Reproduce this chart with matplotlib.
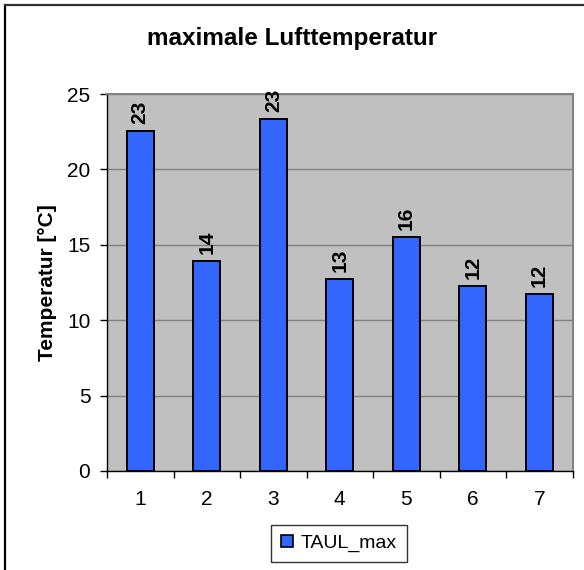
import matplotlib
matplotlib.use("Agg")
import matplotlib.pyplot as plt
from matplotlib.patches import Rectangle
from matplotlib.lines import Line2D

plt.rcParams["font.family"] = ["Liberation Sans", "DejaVu Sans"]

# Tageshöchstwerte der Lufttemperatur
tage = [1, 2, 3, 4, 5, 6, 7]
taul_max = [22.55, 13.9, 23.35, 12.75, 15.5, 12.25, 11.75]
y_ticks = [0, 5, 10, 15, 20, 25]

W, H = 584, 570
fig = plt.figure(figsize=(W / 100, H / 100), dpi=100, facecolor="white")

# Rahmen links und oben wie im Excel-Export
fig.add_artist(Line2D([5 / W, 5 / W], [0, 1 - 5 / H], transform=fig.transFigure,
                      color="black", lw=1.6))
fig.add_artist(Line2D([5 / W, 1], [1 - 5 / H, 1 - 5 / H], transform=fig.transFigure,
                      color="#303030", lw=1.6))

ax = fig.add_axes([107 / W, (H - 471) / H, (572.5 - 107) / W, (471 - 94) / H])
ax.set_facecolor("#C0C0C0")

ax.bar(tage, taul_max, width=0.4, color="#3366FF", edgecolor="black",
       linewidth=1.4, zorder=3, label="TAUL_max")
for x, v in zip(tage, taul_max):
    ax.annotate(f"{v:.0f}", (x, v), xytext=(0, 5), textcoords="offset points",
                rotation=90, ha="center", va="bottom", fontsize=15,
                fontweight="bold", zorder=4)

ax.set_xlim(0.5, 7.5)
ax.set_ylim(0, 25)
ax.set_yticks(y_ticks)
ax.yaxis.grid(True, color="#808080", lw=1)
ax.set_axisbelow(True)

# Kategorien mittig, Striche an den Grenzen
ax.set_xticks(tage)
ax.set_xticks([t + 0.5 for t in [0] + tage], minor=True)
ax.tick_params(axis="x", which="major", length=0, pad=14, labelsize=15)
ax.tick_params(axis="x", which="minor", length=5, width=1, direction="out")
ax.tick_params(axis="y", length=5, width=1, direction="out", labelsize=15, pad=7)

for side in ("top", "right"):
    ax.spines[side].set_color("#808080")
    ax.spines[side].set_linewidth(1.4)
for side in ("left", "bottom"):
    ax.spines[side].set_color("black")
    ax.spines[side].set_linewidth(1)

ax.set_ylabel("Temperatur [°C]", fontsize=15, fontweight="bold", labelpad=7)
fig.text(292 / W, 1 - 39 / H, "maximale Lufttemperatur", ha="center",
         va="center", fontsize=17.5, fontweight="bold")

leg = fig.legend(handles=[Rectangle((0, 0), 1, 1, facecolor="#3366FF",
                                    edgecolor="black", lw=1.2)],
                 labels=["TAUL_max"], loc="center",
                 bbox_to_anchor=(339 / W, 1 - 543.5 / H), fontsize=14,
                 frameon=True, fancybox=False, handlelength=0.6,
                 handleheight=0.6, handletextpad=0.4, borderpad=0.5)
leg.get_frame().set_edgecolor("black")
leg.get_frame().set_linewidth(1)

fig.savefig("out.png", dpi=100, facecolor="white")
